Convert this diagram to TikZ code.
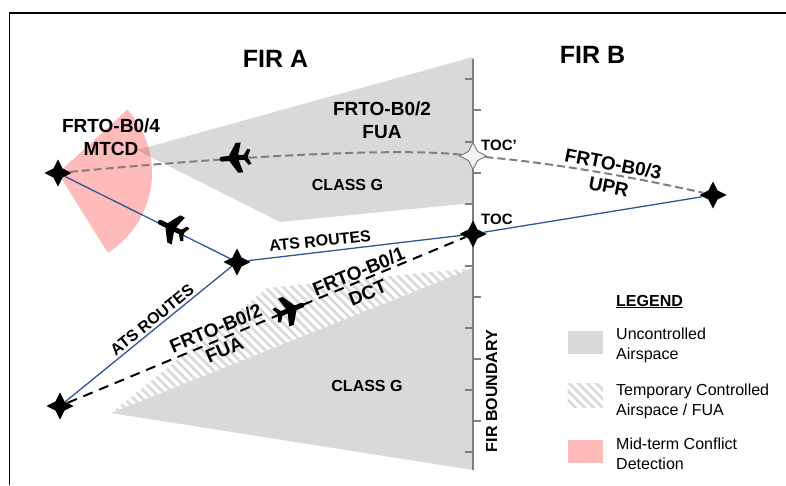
\documentclass[tikz,border=0pt]{standalone}
\usepackage{fontspec}
\setmainfont{Liberation Sans}
\usetikzlibrary{shapes.geometric}
\definecolor{airgray}{HTML}{D9D9D9}
\definecolor{routeblue}{HTML}{2F5597}
\definecolor{fenceline}{HTML}{7F7F7F}
\tikzset{
  waypoint/.style={star, star points=4, star point ratio=2.1, inner sep=0pt, minimum size=27pt, fill=black},
  ghostpoint/.style={waypoint, fill=white!95!black, draw=fenceline, line width=1pt},
  route/.style={routeblue, line width=1.3pt},
  direct/.style={black, line width=2pt, dash pattern=on 10pt off 7pt},
  planned/.style={fenceline, line width=2pt, dash pattern=on 8pt off 4pt},
  firtitle/.style={font=\bfseries\fontsize{25}{30}\selectfont, anchor=base},
  block/.style={font=\bfseries\fontsize{19}{23}\selectfont, align=center, inner sep=0pt},
  small/.style={font=\bfseries\fontsize{16}{19}\selectfont, inner sep=0pt},
  tocname/.style={font=\bfseries\fontsize{15}{18}\selectfont, anchor=base west, inner sep=0pt},
  legendtext/.style={font=\fontsize{16}{20}\selectfont, align=left, anchor=west, inner sep=0pt},
  sector/.style={fill=red, fill opacity=0.27},
  planeicon/.pic={
    \draw[line width=5pt, line cap=round] (13,0) -- (-11,0);
    \fill (7,-1) -- (-2,-15) -- (-7,-15) -- (-3,-1) -- (-3,1) -- (-7,15) -- (-2,15) -- (7,1) -- cycle;
    \fill (-8,-1) -- (-13,-8) -- (-16,-7) -- (-13,-1) -- (-13,1) -- (-16,7) -- (-13,8) -- (-8,1) -- cycle;
  }
}
\begin{document}
\begin{tikzpicture}[x=1pt, y=-1pt]
    \useasboundingbox (0,0) rectangle (786,485);
    \draw[line width=1.5pt] (9.5,485) -- (9.5,13) -- (786,13);  % open frame

    % airspace blocks
    \fill[airgray] (473,57) -- (137,150) -- (280,222) -- (473,203) -- cycle;
    \fill[airgray] (111,413) -- (473,268) -- (473,470) -- cycle;
    \begin{scope}
        \clip (111,413) -- (267,288) -- (473,268) -- cycle;
        \foreach \s in {-60,-51,...,460}
            \draw[airgray, line width=2.6pt] (\s,250) -- (\s+180,430);
    \end{scope}
    \fill[sector] (58,173) -- +(-42.4:94) arc [start angle=-42.4, end angle=58, radius=94] -- cycle;

    % boundary and its ticks
    \draw[fenceline, line width=2pt] (473,59) -- (473,470);
    \foreach \ty/\tl in {78.7/-8,110/8,141.5/-8,172.7/8,203.5/-8,265.5/-8,297/8,328/-8,359/8,390/-8,421/8,452/-8}
        \draw[fenceline, line width=2pt] (473,\ty) -- ++(\tl,0);

    % waypoints
    \node[waypoint] (wpA) at (58,173) {};
    \node[waypoint] (wpB) at (237,262) {};
    \node[waypoint] (wpC) at (60,406) {};
    \node[waypoint] (wpE) at (713,195) {};
    \node[waypoint] (toc) at (473,234) {};
    \node[ghostpoint] (tocp) at (473,156) {};

    % routes
    \draw[route] (wpA) -- (wpB);
    \draw[route] (wpC) -- (wpB);
    \draw[route] (wpB) -- (toc);
    \draw[route] (toc) -- (wpE);
    \draw[direct] (wpC) -- (toc);
    \draw[planned] (wpA) .. controls (250,155) and (400,148) .. (tocp);
    \draw[planned] (tocp) .. controls (553,163) and (633,177) .. (wpE);

    % aircraft
    \pic[rotate=185] at (235,158) {planeicon};
    \pic[rotate=154] at (172,228) {planeicon};
    \pic[rotate=22] at (290,310) {planeicon};

    % titles and labels
    \node[firtitle] (firA) at (275.5,67) {FIR A};
    \node[firtitle] (firB) at (592.5,63) {FIR B};
    \node[block] (mtcd) at (111,137) {FRTO-B0/4\\MTCD};
    \node[block] (fuaTop) at (382,120) {FRTO-B0/2\\FUA};
    \node[block, rotate=-11] (upr) at (611,175) {FRTO-B0/3\\UPR};
    \node[block, rotate=22.6] (fuaLow) at (220,339) {FRTO-B0/2\\FUA};
    \node[block, rotate=22.6] (dct) at (363,282) {FRTO-B0/1\\DCT};
    \node[small] (classTop) at (347.5,185) {CLASS G};
    \node[small] (classLow) at (367,386) {CLASS G};
    \node[small, rotate=6] (atsTop) at (320,241) {ATS ROUTES};
    \node[small, rotate=39] (atsLow) at (152,320) {ATS ROUTES};
    \node[small, rotate=90] (firLine) at (491.5,391) {FIR BOUNDARY};
    \node[tocname] (tocpName) at (481,150) {TOC’};
    \node[tocname] (tocName) at (481,224) {TOC};

    % legend
    \node[anchor=base west, inner sep=0pt, font=\bfseries\fontsize{16}{19}\selectfont] (legendHead) at (616,306) {\underline{LEGEND}};
    \fill[airgray] (567.5,331) rectangle (603,354);
    \node[legendtext] (legU) at (616,345) {Uncontrolled\\Airspace};
    \begin{scope}
        \clip (567.5,383) rectangle (603,407);
        \foreach \s in {520,529,...,600}
            \draw[airgray, line width=2.6pt] (\s,370) -- (\s+50,420);
    \end{scope}
    \node[legendtext] (legT) at (616,401) {Temporary Controlled\\Airspace / FUA};
    \fill[sector] (568,440) rectangle (603,463);
    \node[legendtext] (legM) at (616,454) {Mid-term Conflict\\Detection};
\end{tikzpicture}
\end{document}
